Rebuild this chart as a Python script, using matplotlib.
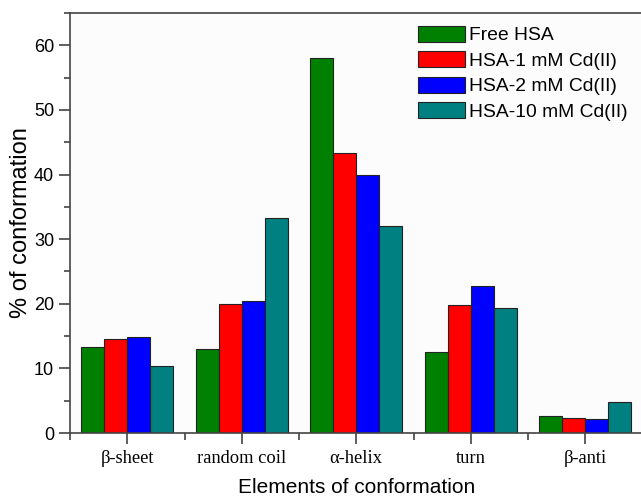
import numpy as np
import matplotlib
matplotlib.use("Agg")
import matplotlib.pyplot as plt
from matplotlib.ticker import MultipleLocator

# data
categories = ["\u03b2-sheet", "random coil", "\u03b1-helix", "turn", "\u03b2-anti"]
series = ["Free HSA", "HSA-1 mM Cd(II)", "HSA-2 mM Cd(II)", "HSA-10 mM Cd(II)"]
free_hsa = [13.3, 13.0, 58.1, 12.6, 2.7]
cd_1mm = [14.5, 19.9, 43.4, 19.8, 2.3]
cd_2mm = [14.8, 20.5, 39.9, 22.7, 2.2]
cd_10mm = [10.4, 33.2, 32.1, 19.4, 4.8]
colors = ["#008000", "#FF0000", "#0000FF", "#008080"]

W, H = 641, 499
fig = plt.figure(figsize=(W / 100, H / 100), dpi=100)
# axes runs off the right edge like in the cropped original
left, right = 70 / W, 1.05
bottom, top = 1 - 433 / H, 1 - 13 / H
ax = fig.add_axes([left, bottom, right - left, top - bottom])
ax.set_facecolor("#fcfcfc")

x = np.arange(len(categories))
bw = 0.2
for i, (vals, name, c) in enumerate(zip([free_hsa, cd_1mm, cd_2mm, cd_10mm], series, colors)):
    ax.bar(x - 0.3 + i * bw, vals, width=bw, color=c, edgecolor="#222222",
           linewidth=0.8, label=name)

unit_px = 114.5  # category spacing in pixels
ax.set_xlim(-0.5, -0.5 + (right - left) * W / unit_px)
ax.set_ylim(0, 65)

ax.set_xticks(x)
ax.set_xticklabels(categories, family="Liberation Serif", fontsize=13.3)
ax.set_xticks(np.arange(-0.5, len(categories), 1.0), minor=True)
ax.yaxis.set_major_locator(MultipleLocator(10))
ax.yaxis.set_minor_locator(MultipleLocator(5))
ax.tick_params(axis="y", which="major", direction="out", length=8, width=1.1,
               labelsize=13, colors="#333333", labelcolor="black")
ax.tick_params(axis="y", which="minor", direction="out", length=4, width=1.1, colors="#333333")
ax.tick_params(axis="x", which="major", direction="out", length=8, width=1.1,
               colors="#333333", labelcolor="black", pad=4)
ax.tick_params(axis="x", which="minor", direction="out", length=5, width=1.1, colors="#333333")
for lab in ax.get_yticklabels():
    lab.set_family("Liberation Sans")

for s in ["left", "bottom", "top"]:
    ax.spines[s].set_linewidth(1.2)
    ax.spines[s].set_color("#444444")
ax.spines["right"].set_visible(False)

ax.set_ylabel("% of conformation", family="Liberation Sans", fontsize=17, labelpad=1)
ax.set_xlabel("Elements of conformation", family="Liberation Sans", fontsize=15, labelpad=8.5)
# centre the x label on the visible part of the axis
ax.xaxis.label.set_x((357 / W - left) / (right - left))

fig.legend(loc="upper left", bbox_to_anchor=(418 / W, 1 - 26 / H), frameon=False,
           prop={"family": "Liberation Sans", "size": 13.9}, handlelength=2.45,
           handleheight=0.87, handletextpad=0.2, labelspacing=0.36, borderpad=0,
           borderaxespad=0)

fig.savefig("out.png", dpi=100)
